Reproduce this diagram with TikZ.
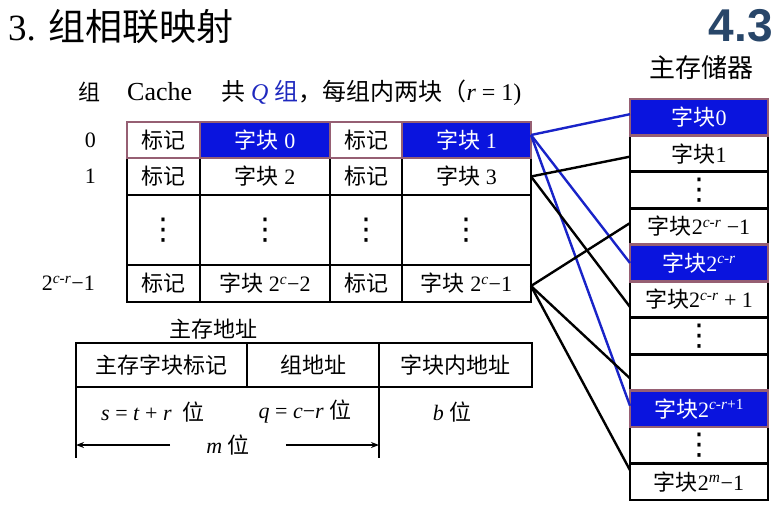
\documentclass[tikz,border=0pt]{standalone}
\usepackage{fontspec}
\setmainfont{Liberation Serif}
\newfontfamily\zhfont{Noto Sans CJK SC}
\newfontfamily\hdfont{Liberation Sans}
\newfontfamily\symfont{DejaVu Sans}
\usepackage{xcolor}
\usetikzlibrary{positioning,arrows.meta}

\definecolor{blkblue}{RGB}{10,20,222}
\definecolor{lnblue}{RGB}{25,35,200}
\definecolor{mauve}{RGB}{150,95,115}
\definecolor{hdblue}{RGB}{40,70,105}
\definecolor{qblue}{RGB}{30,40,190}

\newcommand{\zh}[1]{{\zhfont #1}}
\newcommand{\supcr}{\textsuperscript{\textit{c}-\textit{r}}}
\newcommand{\vd}{{\symfont\fontsize{30}{30}\selectfont ⋮}}

\begin{document}
\begin{tikzpicture}[x=1pt, y=-1pt, every node/.style={
    inner sep=0pt,
    font=\fontsize{22}{24}\selectfont,
  },
  cell/.style={draw, line width=2.8pt, outer sep=0pt, minimum height=36.5pt},
  hl/.style={fill=blkblue, text=white},
  hlline/.style={draw=mauve, line width=2.8pt},
  link/.style={line width=2.4pt}]

  \useasboundingbox (0,0) rectangle (778,527);

  % titles
  \node[anchor=west, font=\fontsize{37}{40}\selectfont] (title) at (8,27) {3. \zh{组相联映射}};
  \node[anchor=east, font=\hdfont\bfseries\fontsize{46}{48}\selectfont, text=hdblue] (sec) at (773,26) {4.3};
  \node[font=\fontsize{26}{28}\selectfont] (mtitle) at (701,68) {\zh{主存储器}};

  % cache
  \node (grp) at (89,92) {\zh{组}};
  \node[anchor=west, font=\fontsize{26}{28}\selectfont] (cname) at (127,92) {Cache};
  \node[anchor=west, font=\fontsize{24}{26}\selectfont] (cinfo) at (221,93) {\zh{共} \textcolor{qblue}{\textit{Q} \zh{组}}\zh{，每组内两块（}\textit{r} = 1)};

  \node[cell, minimum width=73pt, minimum height=36pt] (c00) at (163.5,140) {\zh{标记}};
  \node[cell, hl, minimum width=130pt, minimum height=36pt, right=0pt of c00] (c01) {\zh{字块} 0};
  \node[cell, minimum width=72pt, minimum height=36pt, right=0pt of c01] (c02) {\zh{标记}};
  \node[cell, hl, minimum width=129pt, minimum height=36pt, right=0pt of c02] (c03) {\zh{字块} 1};

  \node[cell, minimum width=73pt, minimum height=37pt, below=0pt of c00] (c10) {\zh{标记}};
  \node[cell, minimum width=130pt, minimum height=37pt, below=0pt of c01] (c11) {\zh{字块} 2};
  \node[cell, minimum width=72pt, minimum height=37pt, below=0pt of c02] (c12) {\zh{标记}};
  \node[cell, minimum width=129pt, minimum height=37pt, below=0pt of c03] (c13) {\zh{字块} 3};

  \node[cell, minimum width=73pt, minimum height=70pt, below=0pt of c10] (c20) {\vd};
  \node[cell, minimum width=130pt, minimum height=70pt, below=0pt of c11] (c21) {\vd};
  \node[cell, minimum width=72pt, minimum height=70pt, below=0pt of c12] (c22) {\vd};
  \node[cell, minimum width=129pt, minimum height=70pt, below=0pt of c13] (c23) {\vd};

  \node[cell, minimum width=73pt, minimum height=37pt, below=0pt of c20] (c30) {\zh{标记}};
  \node[cell, minimum width=130pt, minimum height=37pt, below=0pt of c21] (c31) {\zh{字块} 2\textsuperscript{\textit{c}}−2};
  \node[cell, minimum width=72pt, minimum height=37pt, below=0pt of c22] (c32) {\zh{标记}};
  \node[cell, minimum width=129pt, minimum height=37pt, below=0pt of c23] (c33) {\zh{字块} 2\textsuperscript{\textit{c}}−1};

  \node[left=31pt of c00] (g0) {0};
  \node[left=31pt of c10] (g1) {1};
  \node[left=32pt of c30] (g3) {2\supcr{}−1};

  % main memory
  \node[cell, hl, minimum width=138pt, minimum height=36.45pt] (m0) at (699,117.2) {\zh{字块}0};
  \node[cell, minimum width=138pt, minimum height=36.45pt, below=0pt of m0] (m1) {\zh{字块}1};
  \node[cell, minimum width=138pt, minimum height=36.45pt, below=0pt of m1] (m2) {\vd};
  \node[cell, minimum width=138pt, minimum height=36.45pt, below=0pt of m2] (m3) {\zh{字块}2\supcr{} −1};
  \node[cell, hl, minimum width=138pt, minimum height=36.45pt, below=0pt of m3] (m4) {\zh{字块}2\supcr};
  \node[cell, minimum width=138pt, minimum height=36.45pt, below=0pt of m4] (m5) {\zh{字块}2\supcr{} + 1};
  \node[cell, minimum width=138pt, minimum height=36.45pt, below=0pt of m5] (m6) {\vd};
  \node[cell, minimum width=138pt, minimum height=36.45pt, below=0pt of m6] (m7) {};
  \node[cell, hl, minimum width=138pt, minimum height=36.45pt, below=0pt of m7] (m8) {\zh{字块}2\textsuperscript{\textit{c}-\textit{r}+1}};
  \node[cell, minimum width=138pt, minimum height=36.45pt, below=0pt of m8] (m9) {\vd};
  \node[cell, minimum width=138pt, minimum height=36.45pt, below=0pt of m9] (m10) {\zh{字块}2\textsuperscript{\textit{m}}−1};

  \foreach \n in {c00,c01,c02,c03,m0,m4,m8}
    \draw[hlline] (\n.north west) rectangle (\n.south east);

  % mapping
  \draw[link, lnblue] ([yshift=5pt]c03.east) -- ([yshift=3pt]m0.west);
  \draw[link, lnblue] ([yshift=5pt]c03.east) -- (m4.west);
  \draw[link, lnblue] ([yshift=5pt]c03.east) -- ([yshift=3pt]m8.west);
  \draw[link] (c13.east) -- ([yshift=-3pt]m1.west);
  \draw[link] (c13.east) -- ([yshift=-7.5pt]m5.west);
  \draw[link] ([yshift=-2.5pt]c33.east) -- ([yshift=3.5pt]m3.west);
  \draw[link] ([yshift=-2.5pt]c33.east) -- ([yshift=-6pt]m7.west);
  \draw[link] ([yshift=-2.5pt]c33.east) -- ([yshift=11.5pt]m10.west);

  % address
  \node (aname) at (213,329) {\zh{主存地址}};
  \node[cell, minimum width=171pt, minimum height=44pt] (a1) at (161.5,365) {\zh{主存字块标记}};
  \node[cell, minimum width=132pt, minimum height=44pt, right=0pt of a1] (a2) {\zh{组地址}};
  \node[cell, minimum width=153pt, minimum height=44pt, right=0pt of a2] (a3) {\zh{字块内地址}};

  \node (bs) at (153,412) {\textit{s} = \textit{t} + \textit{r}\ \ \zh{位}};
  \node (bq) at (305,412) {\textit{q} = \textit{c}−\textit{r} \zh{位}};
  \node (bb) at (452,412) {\textit{b} \zh{位}};
  \node (bm) at (228,445) {\textit{m} \zh{位}};

  \coordinate (abot) at (0,458);
  \draw[line width=2.8pt] (a1.south west) -- (a1.south west |- abot);
  \draw[line width=2.8pt] (a2.south east) -- (a2.south east |- abot);
  \draw[-{Stealth[length=8pt]}, line width=1.4pt, shorten <=36pt] (bm.west) -- (bm.west -| a1.west);
  \draw[-{Stealth[length=8pt]}, line width=1.4pt, shorten <=36pt] (bm.east) -- (bm.east -| a2.east);

\end{tikzpicture}
\end{document}
